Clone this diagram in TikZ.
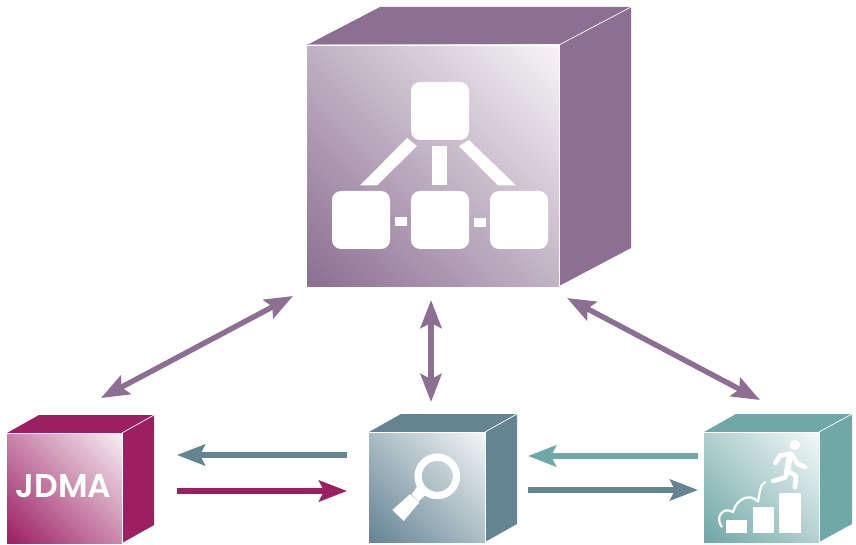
\documentclass[tikz,border=0pt]{standalone}
\usepackage{fontspec}
\setmainfont{Poppins}
\newfontfamily\jdmafont{Poppins SemiBold}
\usetikzlibrary{arrows.meta}
\definecolor{cPurple}{HTML}{8C6F92}
\definecolor{cCrimson}{HTML}{9C1F64}
\definecolor{cSlate}{HTML}{648492}
\definecolor{cTeal}{HTML}{6FA8A6}
\pgfdeclarehorizontalshading{faceP}{100bp}{color(0bp)=(cPurple); color(15bp)=(cPurple); color(85bp)=(cPurple!8!white); color(100bp)=(cPurple!8!white)}
\pgfdeclarehorizontalshading{faceC}{100bp}{color(0bp)=(cCrimson); color(15bp)=(cCrimson); color(85bp)=(cCrimson!8!white); color(100bp)=(cCrimson!8!white)}
\pgfdeclarehorizontalshading{faceS}{100bp}{color(0bp)=(cSlate); color(15bp)=(cSlate); color(85bp)=(cSlate!8!white); color(100bp)=(cSlate!8!white)}
\pgfdeclarehorizontalshading{faceT}{100bp}{color(0bp)=(cTeal); color(15bp)=(cTeal); color(85bp)=(cTeal!8!white); color(100bp)=(cTeal!8!white)}
\tikzset{
  x=1pt,y=-1pt,
  twohead/.style={{Stealth[length=28pt,width=21pt,inset=5pt]}-{Stealth[length=28pt,width=21pt,inset=5pt]},line width=5.4pt,cPurple},
  onehead/.style={-{Stealth[length=28pt,width=21pt,inset=5pt]},line width=5.2pt},
  icon/.style={fill=white,draw=none},
  edge/.style={draw=white,line width=0.7pt},
  limb/.style={draw=white,line cap=round,line join=round,line width=4.6pt},
  curl/.style={draw=white,line cap=round,line join=round,line width=2.2pt},
  box/.style={fill=white,rounded corners=9pt,draw=none},
}
\begin{document}
\begin{tikzpicture}
\useasboundingbox (0,0) rectangle (856,545);
\fill[white] (0,0) rectangle (856,545);
% hub cube
\fill[cPurple] (307,45) -- (380,7) -- (631,7) -- (559,45) -- cycle;
\fill[cPurple] (559,45) -- (631,7) -- (631,248) -- (559,286) -- cycle;
\shade[shading=faceP,shading angle=45] (307,45) rectangle (559,286);
\draw[edge] (559,45) -- (631,7);
\draw[edge] (307,45) -- (559,45) -- (559,286);
% hub icon
\path[box] (411,82) rectangle (469,140);
\path[box] (332,191) rectangle (390,249);
\path[box] (411,191) rectangle (469,249);
\path[box] (490,191) rectangle (548,249);
\fill[icon] (407,138) -- (417,146) -- (377,185.500) -- (360,185.500) -- cycle;
\fill[icon] (432,146) rectangle (447,185.500);
\fill[icon] (469,140) -- (459,146) -- (498,185.500) -- (516,185.500) -- cycle;
\fill[icon] (395,217) rectangle (407,226);
\fill[icon] (474,218) rectangle (486,227);
% JDMA cube
\fill[cCrimson] (7,433) -- (39,415) -- (154,415) -- (122,433) -- cycle;
\fill[cCrimson] (122,433) -- (154,415) -- (154,525) -- (122,543) -- cycle;
\shade[shading=faceC,shading angle=45] (7,433) rectangle (122,543);
\draw[edge] (122,433) -- (154,415);
\draw[edge] (7,433) -- (122,433) -- (122,543);
\node[text=white,font=\jdmafont\fontsize{33}{33}\selectfont,inner sep=0pt] (jdma) at (63.500,486) {JDMA};
% search cube
\fill[cSlate] (369,432) -- (401,414) -- (517,414) -- (485,432) -- cycle;
\fill[cSlate] (485,432) -- (517,414) -- (517,524) -- (485,542) -- cycle;
\shade[shading=faceS,shading angle=45] (369,432) rectangle (485,542);
\draw[edge] (485,432) -- (517,414);
\draw[edge] (369,432) -- (485,432) -- (485,542);
\draw[white,line width=7.300pt] (437.300,476.300) circle (19.200);
\fill[icon] (417.500,486) -- (426,494.500) -- (418.500,501.500) -- (411.500,494.500) -- cycle;
\fill[icon] (410,494.300) -- (419.300,502.300) -- (403.700,521) -- (392.300,510) -- cycle;
% steps cube
\fill[cTeal] (704,432) -- (736,414) -- (852,414) -- (819,432) -- cycle;
\fill[cTeal] (819,432) -- (852,414) -- (852,524) -- (819,542) -- cycle;
\shade[shading=faceT,shading angle=45] (704,432) rectangle (819,542);
\draw[edge] (819,432) -- (852,414);
\draw[edge] (704,432) -- (819,432) -- (819,542);
\fill[icon] (726,520) rectangle (747.300,533.300);
\fill[icon] (753,506.700) rectangle (774,533.300);
\fill[icon] (779.300,493.300) rectangle (800.700,533.300);
\fill[icon] (795,445) circle (5.200);
\draw[limb] (775.500,463) -- (780,455.500) -- (791,453.500) -- (798,464) -- (805,467);
\draw[limb,line width=6pt] (790,454.500) -- (787,472);
\draw[limb] (773,481) -- (785,477.500) -- (788,471) -- (796,476) -- (795,487);
\draw[curl] (721.700,526.700) .. controls (715,518) and (722,506) .. (733,512)
  .. controls (737,498) and (750,493) .. (758,501.500);
\draw[curl] (758,501.500) .. controls (760,493) and (759,486) .. (765,482);
% connectors
\coordinate (a1) at (101,398); \coordinate (a2) at (293,296);
\coordinate (b1) at (431,402); \coordinate (b2) at (431,300);
\coordinate (c1) at (760,400); \coordinate (c2) at (567,298);
\coordinate (d1) at (347,455); \coordinate (d2) at (177,455);
\coordinate (e1) at (177,491); \coordinate (e2) at (347,491);
\coordinate (f1) at (698,456); \coordinate (f2) at (528,456);
\coordinate (g1) at (528,490); \coordinate (g2) at (698,490);
\draw[twohead] (a1) -- (a2);
\draw[twohead] (b1) -- (b2);
\draw[twohead] (c1) -- (c2);
\draw[onehead,cSlate] (d1) -- (d2);
\draw[onehead,cCrimson] (e1) -- (e2);
\draw[onehead,cTeal] (f1) -- (f2);
\draw[onehead,cSlate] (g1) -- (g2);
\end{tikzpicture}
\end{document}
